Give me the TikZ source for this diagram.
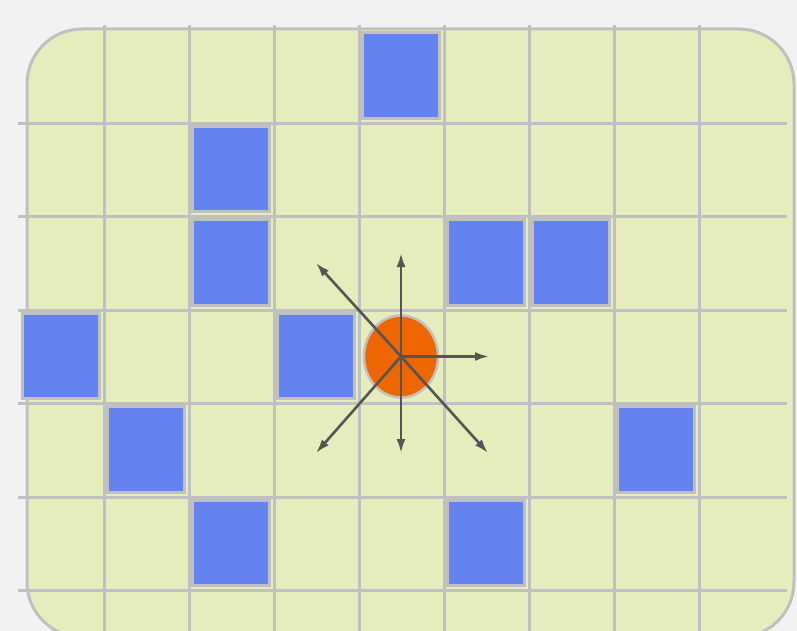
\documentclass[tikz,border=0pt]{standalone}
\usetikzlibrary{arrows.meta}
\usetikzlibrary{shapes.geometric}
\definecolor{figFondo}{RGB}{242,242,242}
\definecolor{figTablero}{RGB}{229,237,188}
\definecolor{figLinea}{RGB}{192,192,192}
\definecolor{figMuro}{RGB}{100,130,240}
\definecolor{figAgente}{RGB}{238,102,0}
\definecolor{figFlecha}{RGB}{85,85,85}
\tikzset{
  tablero/.style={draw=figLinea, line width=3pt, fill=figTablero, rounded corners=55pt},
  rejilla/.style={draw=figLinea, line width=3pt},
  muro/.style={draw=figLinea, line width=3pt, fill=figMuro},
  agente/.style={ellipse, draw=figLinea, line width=2.5pt, fill=figAgente,
    minimum width=74pt, minimum height=82pt, inner sep=0pt},
  flecha/.style={-{Latex[length=14pt,width=9pt]}, line width=2.6pt, draw=figFlecha}
}
\newcommand{\cw}{85.1}
\newcommand{\ch}{93.4}
\begin{document}
\begin{tikzpicture}[x=1pt,y=-1pt]
  \fill[figFondo] (0,0) rectangle (797,631);
  \useasboundingbox (0,0) rectangle (797,631);
  \begin{scope}
    \clip (0,0) rectangle (797,631);
    \draw[tablero] (27,29) rectangle (794,637);
    % grid lines
    \foreach \i in {1,...,8}
      \draw[rejilla] ({19+\cw*\i},25) -- ({19+\cw*\i},640);
    \foreach \j in {1,...,6}
      \draw[rejilla] (18,{30+\ch*\j}) -- (787,{30+\ch*\j});
    % walls (column, row)
    \foreach \c/\r in {4/0, 2/1, 2/2, 5/2, 6/2, 0/3, 3/3, 1/4, 7/4, 2/5, 5/5}
      \draw[muro] ({19+\cw*\c+3},{30+\ch*\r+3}) rectangle ({19+\cw*(\c+1)-5},{30+\ch*(\r+1)-5});
  \end{scope}
  % agent and its moves
  \node[agente] (agent) at (401,356.5) {};
  \coordinate (up) at (401,253);
  \coordinate (upleft) at (316,263);
  \coordinate (right) at (489,356.5);
  \coordinate (down) at (401,453);
  \coordinate (downleft) at (316,453);
  \coordinate (downright) at (488,453);
  \foreach \t in {up, upleft, right, down, downleft, downright}
    \draw[flecha] (agent.center) -- (\t);
\end{tikzpicture}
\end{document}
